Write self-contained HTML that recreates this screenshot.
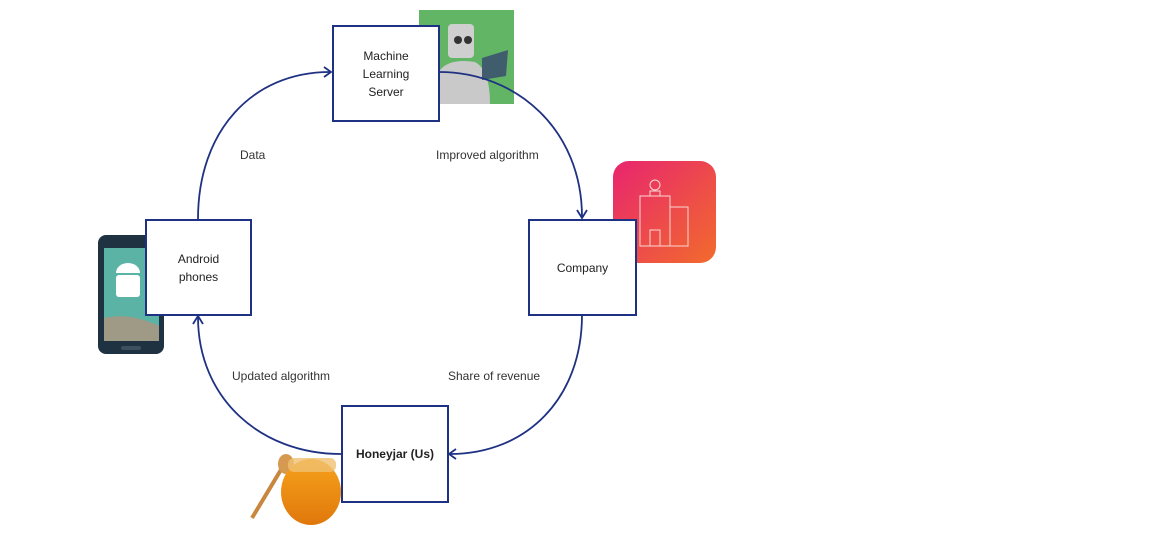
<!DOCTYPE html>
<html><head><meta charset="utf-8"><style>
body{margin:0;background:#fff;width:1158px;height:536px;overflow:hidden;font-family:"Liberation Sans",sans-serif}
.box{position:absolute;background:#fff;border:2px solid #1f3182;box-sizing:border-box;display:flex;align-items:center;justify-content:center;text-align:center;font-size:12px;color:#222;line-height:18px}
.lbl{position:absolute;font-size:12px;color:#333}
</style></head><body>
<svg width="1158" height="536" style="position:absolute;left:0;top:0">
<defs>
<linearGradient id="g" x1="0" y1="0" x2="1" y2="1"><stop offset="0" stop-color="#e8256f"/><stop offset="1" stop-color="#f26b2c"/></linearGradient>
<linearGradient id="h" x1="0" y1="0" x2="0" y2="1"><stop offset="0" stop-color="#f7a21b"/><stop offset="1" stop-color="#e0780c"/></linearGradient>
</defs>
<rect x="419" y="10" width="95" height="94" fill="#62b565"/>
<rect x="448" y="24" width="26" height="34" rx="4" fill="#cfcfcf"/>
<circle cx="458" cy="40" r="4" fill="#333"/><circle cx="468" cy="40" r="4" fill="#333"/>
<path d="M440 104 L440 70 Q450 58 475 62 Q490 70 490 104 Z" fill="#c9c9c9"/>
<path d="M482 58 L508 50 L506 76 L482 80 Z" fill="#405d6e"/>
<rect x="613" y="161" width="103" height="102" rx="16" fill="url(#g)"/>
<g fill="none" stroke="#fbd7d3" stroke-width="1">
<rect x="640" y="196" width="30" height="50"/><rect x="670" y="207" width="18" height="39"/>
<circle cx="655" cy="185" r="5"/><rect x="650" y="191" width="10" height="5"/><rect x="650" y="230" width="10" height="16"/>
</g>
<rect x="98" y="235" width="66" height="119" rx="8" fill="#1f3242"/>
<rect x="104" y="248" width="55" height="93" fill="#5ab3a5"/>
<path d="M104 318 Q130 312 159 326 L159 341 L104 341 Z" fill="#9e9a85"/>
<rect x="116" y="275" width="24" height="22" rx="3" fill="#fff"/>
<path d="M116 273 A12 10 0 0 1 140 273 Z" fill="#fff"/>
<rect x="121" y="346" width="20" height="4" rx="2" fill="#3c5060"/>
<path d="M252 518 L282 468" stroke="#c8863e" stroke-width="4"/>
<ellipse cx="286" cy="464" rx="8" ry="10" fill="#d59a50"/>
<ellipse cx="311" cy="492" rx="30" ry="33" fill="url(#h)"/>
<rect x="288" y="458" width="48" height="14" rx="6" fill="#f0c070" opacity=".8"/>
<g fill="none" stroke="#1f3182" stroke-width="1.8">
<path d="M198 219 C198 131 252 72 330 72"/><path d="M324 67 L331 72 L324 77"/>
<path d="M439 72 C518 72 582 131 582 217"/><path d="M577 210 L582 218 L587 210"/>
<path d="M582 315 C582 398 527 454 450 454"/><path d="M456 449 L449 454 L456 459"/>
<path d="M341 454 C260 454 198 398 198 317"/><path d="M193 324 L198 316 L203 324"/>
</g>
</svg>
<div class="box" style="left:332px;top:25px;width:108px;height:97px">Machine<br>Learning<br>Server</div>
<div class="box" style="left:528px;top:219px;width:109px;height:97px">Company</div>
<div class="box" style="left:145px;top:219px;width:107px;height:97px">Android<br>phones</div>
<div class="box" style="left:341px;top:405px;width:108px;height:98px;font-weight:bold">Honeyjar (Us)</div>
<div class="lbl" style="left:240px;top:148px">Data</div>
<div class="lbl" style="left:436px;top:148px">Improved algorithm</div>
<div class="lbl" style="left:448px;top:369px">Share of revenue</div>
<div class="lbl" style="left:232px;top:369px">Updated algorithm</div>
</body></html>
